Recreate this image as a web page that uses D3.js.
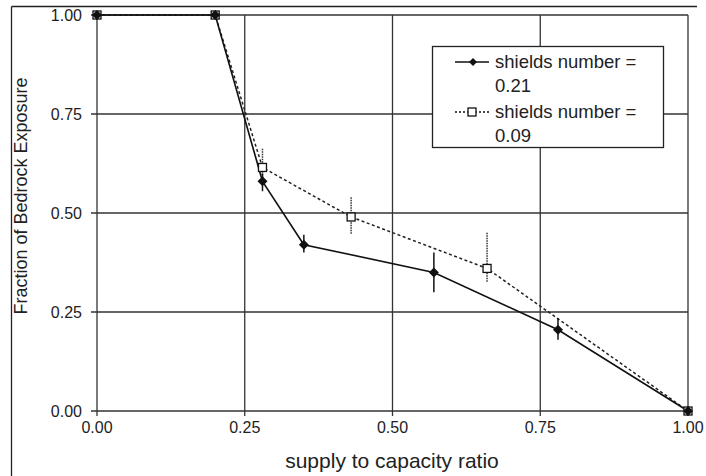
<!DOCTYPE html>
<html>
<head>
<meta charset="utf-8">
<script src="https://cdn.jsdelivr.net/npm/d3@7"></script>
<style>
  body { margin: 0; background: #fff; }
  svg { display: block; font-family: "Liberation Sans", Arial, sans-serif; }
</style>
</head>
<body>
<div id="chart"></div>
<script>
// series data
var ratio21 = [0, 0.2, 0.28, 0.35, 0.57, 0.78, 1.0];
var bedrock21 = [1.0, 1.0, 0.58, 0.42, 0.35, 0.205, 0.0];
var errUp21 = [0.01, 0.01, 0.02, 0.025, 0.05, 0.03, 0.01];
var errDown21 = [0.01, 0.01, 0.025, 0.02, 0.05, 0.025, 0.01];

var ratio09 = [0, 0.2, 0.28, 0.43, 0.66, 1.0];
var bedrock09 = [1.0, 1.0, 0.615, 0.49, 0.36, 0.0];
var errUp09 = [0.01, 0.01, 0.047, 0.05, 0.09, 0.01];
var errDown09 = [0.01, 0.01, 0.047, 0.045, 0.036, 0.01];

var xTicks = [0, 0.25, 0.5, 0.75, 1.0];
var yTicks = [0, 0.25, 0.5, 0.75, 1.0];
var legendLabels = [["shields number =", "0.21"], ["shields number =", "0.09"]];

var W = 706, H = 476;
var margin = {left: 97, top: 15};
var width = 591, height = 396;

var svg = d3.select("#chart").append("svg")
    .attr("width", W)
    .attr("height", H);

// outer frame, only top and left edges show
svg.append("line")
    .attr("x1", 11.5).attr("x2", 697).attr("y1", 6.5).attr("y2", 6.5)
    .attr("stroke", "#222").attr("stroke-width", 1.3);
svg.append("line")
    .attr("x1", 11.5).attr("x2", 11.5).attr("y1", 6.5).attr("y2", H)
    .attr("stroke", "#222").attr("stroke-width", 1.3);

var g = svg.append("g")
    .attr("transform", "translate(" + margin.left + "," + margin.top + ")");

var x = d3.scaleLinear().domain([0, 1]).range([0, width]);
var y = d3.scaleLinear().domain([0, 1]).range([height, 0]);

// grid
g.selectAll(".vgrid").data(xTicks).enter().append("line")
    .attr("x1", function(d) { return x(d); }).attr("x2", function(d) { return x(d); })
    .attr("y1", 0).attr("y2", height + 5)
    .attr("stroke", "#333").attr("stroke-width", 1.3);
g.selectAll(".hgrid").data(yTicks).enter().append("line")
    .attr("x1", -6).attr("x2", width)
    .attr("y1", function(d) { return y(d); }).attr("y2", function(d) { return y(d); })
    .attr("stroke", "#333").attr("stroke-width", 1.3);

// tick labels
g.selectAll(".xlab").data(xTicks).enter().append("text")
    .attr("x", function(d) { return x(d); })
    .attr("y", height + 22)
    .attr("text-anchor", "middle")
    .attr("font-size", "16px")
    .attr("fill", "#222")
    .text(d3.format(".2f"));
g.selectAll(".ylab").data(yTicks).enter().append("text")
    .attr("x", -15)
    .attr("y", function(d) { return y(d) + 6; })
    .attr("text-anchor", "end")
    .attr("font-size", "16px")
    .attr("fill", "#222")
    .text(d3.format(".2f"));

// axis titles
svg.append("text")
    .attr("x", 392).attr("y", 468)
    .attr("text-anchor", "middle")
    .attr("font-size", "21px")
    .attr("fill", "#222")
    .text("supply to capacity ratio");
svg.append("text")
    .attr("transform", "translate(27,196) rotate(-90)")
    .attr("text-anchor", "middle")
    .attr("font-size", "18px")
    .attr("fill", "#222")
    .text("Fraction of Bedrock Exposure");

function pts(xs, ys, ups, downs) {
  return xs.map(function(v, i) { return {x: v, y: ys[i], up: ups[i], down: downs[i]}; });
}
var s21 = pts(ratio21, bedrock21, errUp21, errDown21);
var s09 = pts(ratio09, bedrock09, errUp09, errDown09);

var line = d3.line().x(function(d) { return x(d.x); }).y(function(d) { return y(d.y); });

// series 0.09: dotted
g.append("path").datum(s09)
    .attr("fill", "none").attr("stroke", "#222")
    .attr("stroke-width", 1.5).attr("stroke-dasharray", "3,2.5")
    .attr("d", line);
g.selectAll(".err09").data(s09).enter().append("line")
    .attr("x1", function(d) { return x(d.x); }).attr("x2", function(d) { return x(d.x); })
    .attr("y1", function(d) { return y(d.y + d.up); })
    .attr("y2", function(d) { return y(d.y - d.down); })
    .attr("stroke", "#333").attr("stroke-width", 1.5).attr("stroke-dasharray", "1.5,1");

// series 0.21: solid
g.append("path").datum(s21)
    .attr("fill", "none").attr("stroke", "#111")
    .attr("stroke-width", 1.6)
    .attr("d", line);
g.selectAll(".err21").data(s21).enter().append("line")
    .attr("x1", function(d) { return x(d.x); }).attr("x2", function(d) { return x(d.x); })
    .attr("y1", function(d) { return y(d.y + d.up); })
    .attr("y2", function(d) { return y(d.y - d.down); })
    .attr("stroke", "#111").attr("stroke-width", 1.5);

// square diamond marker (equal width and height)
var diamond = "M0,-5L5,0L0,5L-5,0Z";
g.selectAll(".sq").data(s09).enter().append("rect")
    .attr("x", function(d) { return x(d.x) - 4; })
    .attr("y", function(d) { return y(d.y) - 4; })
    .attr("width", 8).attr("height", 8)
    .attr("fill", "#fff").attr("stroke", "#111").attr("stroke-width", 1.3);
g.selectAll(".dia").data(s21).enter().append("path")
    .attr("transform", function(d) { return "translate(" + x(d.x) + "," + y(d.y) + ")"; })
    .attr("d", diamond)
    .attr("fill", "#111");

// legend
var leg = svg.append("g");
leg.append("rect")
    .attr("x", 432.5).attr("y", 46.5)
    .attr("width", 231).attr("height", 101)
    .attr("fill", "#fff").attr("stroke", "#222").attr("stroke-width", 1.3);
var rows = leg.selectAll(".row").data(legendLabels).enter().append("g")
    .attr("transform", function(d, i) { return "translate(0," + (62 + i * 50) + ")"; });
rows.append("line")
    .attr("x1", 455).attr("x2", 489).attr("y1", 0).attr("y2", 0)
    .attr("stroke", "#111").attr("stroke-width", 1.5)
    .attr("stroke-dasharray", function(d, i) { return i ? "2,2" : null; });
rows.each(function(d, i) {
  var r = d3.select(this);
  if (i === 0) {
    r.append("path").attr("transform", "translate(473,0) scale(0.8)").attr("d", diamond).attr("fill", "#111");
  } else {
    r.append("rect").attr("x", 468).attr("y", -4).attr("width", 8).attr("height", 8)
      .attr("fill", "#fff").attr("stroke", "#111").attr("stroke-width", 1.3);
  }
});
rows.append("text")
    .attr("x", 495).attr("y", 6)
    .attr("font-size", "18.5px").attr("fill", "#222")
    .text(function(d) { return d[0]; });
rows.append("text")
    .attr("x", 495).attr("y", 30)
    .attr("font-size", "18.5px").attr("fill", "#222")
    .text(function(d) { return d[1]; });
</script>
</body>
</html>
